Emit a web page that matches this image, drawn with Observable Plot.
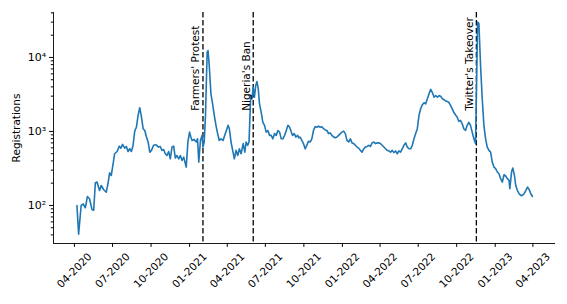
<!DOCTYPE html>
<html><head><meta charset="utf-8">
<script src="https://cdn.jsdelivr.net/npm/d3@7"></script>
<script src="https://cdn.jsdelivr.net/npm/@observablehq/plot@0.6"></script>
<style>body{margin:0;background:#fff}</style>
</head><body><div id="chart"></div>
<script>
const dates = [
"2020-04-07","2020-04-11","2020-04-17","2020-04-22","2020-04-27","2020-05-02","2020-05-07","2020-05-13","2020-05-17","2020-05-21",
"2020-05-25","2020-05-31","2020-06-04","2020-06-10","2020-06-16","2020-06-20","2020-06-24","2020-06-28","2020-07-03","2020-07-06",
"2020-07-12","2020-07-17","2020-07-21","2020-07-25","2020-07-30","2020-08-03","2020-08-07","2020-08-11","2020-08-15","2020-08-19",
"2020-08-23","2020-08-27","2020-08-31","2020-09-04","2020-09-08","2020-09-12","2020-09-16","2020-09-20","2020-09-24","2020-09-28",
"2020-10-02","2020-10-07","2020-10-13","2020-10-19","2020-10-23","2020-10-27","2020-10-31","2020-11-04","2020-11-08","2020-11-12",
"2020-11-16","2020-11-20","2020-11-24","2020-11-28","2020-12-02","2020-12-06","2020-12-10","2020-12-14","2020-12-18","2020-12-22",
"2020-12-24","2020-12-28","2021-01-01","2021-01-04","2021-01-07","2021-01-12","2021-01-17","2021-01-20","2021-01-23","2021-01-27",
"2021-01-31","2021-02-02","2021-02-05","2021-02-08","2021-02-12","2021-02-14","2021-02-17","2021-02-21","2021-02-25","2021-03-01",
"2021-03-05","2021-03-09","2021-03-13","2021-03-17","2021-03-22","2021-03-26","2021-03-30","2021-04-03","2021-04-06","2021-04-10",
"2021-04-14","2021-04-18","2021-04-22","2021-04-26","2021-04-30","2021-05-04","2021-05-09","2021-05-13","2021-05-16","2021-05-20",
"2021-05-23","2021-05-27","2021-05-30","2021-06-02","2021-06-05","2021-06-08","2021-06-11","2021-06-14","2021-06-17","2021-06-21",
"2021-06-25","2021-06-29","2021-07-03","2021-07-07","2021-07-11","2021-07-15","2021-07-19","2021-07-23","2021-07-27","2021-07-31",
"2021-08-04","2021-08-08","2021-08-12","2021-08-16","2021-08-20","2021-08-24","2021-08-28","2021-09-01","2021-09-04","2021-09-08",
"2021-09-12","2021-09-16","2021-09-19","2021-09-22","2021-09-26","2021-09-30","2021-10-04","2021-10-08","2021-10-12","2021-10-16",
"2021-10-20","2021-10-24","2021-10-28","2021-11-01","2021-11-05","2021-11-09","2021-11-13","2021-11-17","2021-11-21","2021-11-25",
"2021-11-29","2021-12-03","2021-12-07","2021-12-11","2021-12-15","2021-12-19","2021-12-23","2021-12-27","2021-12-31","2022-01-04",
"2022-01-08","2022-01-12","2022-01-16","2022-01-20","2022-01-24","2022-01-28","2022-02-01","2022-02-05","2022-02-09","2022-02-13",
"2022-02-17","2022-02-21","2022-02-25","2022-03-01","2022-03-05","2022-03-09","2022-03-13","2022-03-17","2022-03-21","2022-03-25",
"2022-03-29","2022-04-02","2022-04-06","2022-04-10","2022-04-14","2022-04-18","2022-04-22","2022-04-26","2022-04-30","2022-05-04",
"2022-05-08","2022-05-12","2022-05-16","2022-05-20","2022-05-24","2022-05-28","2022-06-01","2022-06-05","2022-06-09","2022-06-13",
"2022-06-17","2022-06-21","2022-06-25","2022-06-29","2022-07-03","2022-07-07","2022-07-11","2022-07-15","2022-07-19","2022-07-23",
"2022-07-27","2022-07-31","2022-08-04","2022-08-08","2022-08-12","2022-08-16","2022-08-20","2022-08-24","2022-08-28","2022-09-01",
"2022-09-04","2022-09-08","2022-09-12","2022-09-16","2022-09-20","2022-09-24","2022-09-28","2022-10-02","2022-10-06","2022-10-10",
"2022-10-14","2022-10-18","2022-10-22","2022-10-26","2022-10-30","2022-11-03","2022-11-07","2022-11-11","2022-11-15","2022-11-20",
"2022-11-23","2022-11-27","2022-12-01","2022-12-05","2022-12-09","2022-12-13","2022-12-17","2022-12-21","2022-12-25","2022-12-29",
"2023-01-02","2023-01-06","2023-01-10","2023-01-14","2023-01-18","2023-01-22","2023-01-26","2023-01-30","2023-02-03","2023-02-05",
"2023-02-09","2023-02-12","2023-02-16","2023-02-19","2023-02-23","2023-02-27","2023-03-03","2023-03-07","2023-03-11","2023-03-15",
"2023-03-19","2023-03-23","2023-03-27","2023-03-31"
];
const values = [
100,41,100,105,93,132,123,88,86,203,
207,159,186,163,151,196,276,254,385,500,
536,632,595,668,595,627,536,583,536,647,
1010,1140,1650,2090,1570,1090,1030,840,720,525,
555,650,660,615,627,555,570,500,473,536,
427,615,633,437,473,427,473,405,450,366,
330,720,980,840,756,780,720,795,385,756,
885,615,720,1650,11800,12400,7800,3230,2360,1650,
1210,935,756,795,756,885,1030,1210,1090,720,
555,427,555,473,583,500,685,525,720,650,
720,3060,2760,3950,2900,4170,4720,3790,2360,1820,
1330,1210,980,1030,885,885,795,935,885,1030,
980,795,795,885,1030,1210,1140,980,885,935,
840,885,820,840,756,685,583,650,735,720,
795,1030,1160,1140,1180,1140,1160,1090,1050,1030,
935,955,885,840,820,840,885,935,980,1010,
935,756,720,795,700,685,650,615,595,555,
525,583,615,627,650,627,700,720,685,700,
700,685,650,615,583,555,545,525,555,517,
545,500,545,525,583,650,700,615,583,583,
650,795,935,1090,1650,2030,2300,2440,2360,2760,
3230,3700,3350,2900,3060,2900,3060,2970,2760,2680,
2600,2540,2480,2270,2030,1820,1680,1570,1370,1410,
1280,1090,1030,1210,1330,1210,980,795,685,30000,
29000,7800,2760,1210,795,615,555,525,385,330,
315,283,268,230,207,260,250,230,218,168,
283,320,254,186,159,144,137,137,144,159,
177,165,144,132
];
const eventDates = ["2021-02-02", "2021-06-02", "2022-11-17"];
const eventLabels = ["Farmers' Protest", "Nigeria's Ban", "Twitter's Takeover"];
const eventLabelValue = 1900;
const xTickDates = ["2020-04-01","2020-07-01","2020-10-01","2021-01-01","2021-04-01","2021-07-01","2021-10-01",
  "2022-01-01","2022-04-01","2022-07-01","2022-10-01","2023-01-01","2023-04-01"];
const xTickLabels = ["04-2020","07-2020","10-2020","01-2021","04-2021","07-2021","10-2021",
  "01-2022","04-2022","07-2022","10-2022","01-2023","04-2023"];
const yTicks = [100, 1000, 10000];
const yTickLabels = ["10\u00B2", "10\u00B3", "10\u2074"];
const yMinorTicks = [40,50,60,70,80,90,200,300,400,500,600,700,800,900,2000,3000,4000,5000,6000,7000,8000,9000,20000,30000,40000];
const yLabel = "Registrations";

const parse = d3.utcParse("%Y-%m-%d");
const data = dates.map((d, i) => ({date: parse(d), value: values[i]}));
const events = eventDates.map((d, i) => ({date: parse(d), label: eventLabels[i], y: eventLabelValue}));
const xticks = xTickDates.map((d, i) => ({date: parse(d), label: xTickLabels[i]}));
const xDomain = [parse("2020-02-11"), parse("2023-05-25")];
const yDomain = [30.6, 40500];

const chart = Plot.plot({
  width: 567, height: 304,
  marginLeft: 53, marginRight: 12, marginTop: 12, marginBottom: 61,
  style: {fontFamily: "DejaVu Sans", fontSize: "10.5px", background: "white", color: "black", overflow: "visible"},
  x: {type: "utc", domain: xDomain},
  y: {type: "log", domain: yDomain},
  marks: [
    Plot.ruleX(events, {x: "date", stroke: "black", strokeWidth: 1.3, strokeDasharray: "5.5,2.5"}),
    Plot.line(data, {x: "date", y: "value", stroke: "#1f77b4", strokeWidth: 1.6}),
    Plot.text(events, {x: "date", y: "y", text: "label", rotate: -90, textAnchor: "start", lineAnchor: "bottom", dx: -3.5, fill: "black"}),
    Plot.ruleY([yDomain[0]], {stroke: "black", strokeWidth: 0.9}),
    Plot.ruleX([xDomain[0]], {stroke: "black", strokeWidth: 0.9}),
    Plot.axisX({ticks: xticks.map(d => d.date), tickSize: 3.9, tickFormat: () => "", label: null}),
    Plot.text(xticks, {x: "date", text: "label", frameAnchor: "bottom", dy: 27, rotate: -45, textAnchor: "middle", lineAnchor: "middle"}),
    Plot.axisY({ticks: yTicks, tickSize: 3.9, tickPadding: 3.5, tickFormat: d => yTickLabels[yTicks.indexOf(d)], label: null, fontSize: 11}),
    Plot.axisY({ticks: yMinorTicks, tickSize: 2.2, tickFormat: () => "", label: null}),
    Plot.text([yLabel], {text: d => d, frameAnchor: "left", dx: -37, rotate: -90, textAnchor: "middle", lineAnchor: "middle"})
  ]
});
document.getElementById("chart").appendChild(chart);
</script>
</body></html>
